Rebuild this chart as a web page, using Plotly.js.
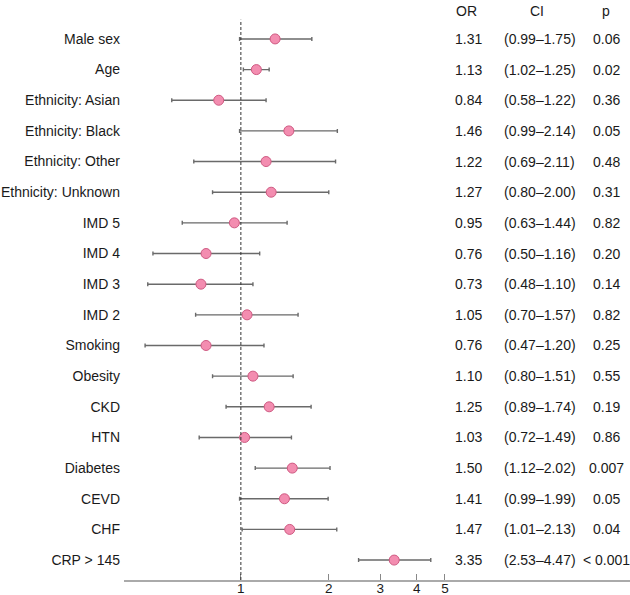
<!DOCTYPE html>
<html>
<head>
<meta charset="utf-8">
<script src="https://cdn.plot.ly/plotly-3.0.1.min.js"></script>
<style>html,body{margin:0;padding:0;background:#fff;}#chart{width:630px;height:595px;}</style>
</head>
<body>
<div id="chart"></div>
<script>
var labels = ["Male sex","Age","Ethnicity: Asian","Ethnicity: Black","Ethnicity: Other","Ethnicity: Unknown","IMD 5","IMD 4","IMD 3","IMD 2","Smoking","Obesity","CKD","HTN","Diabetes","CEVD","CHF","CRP > 145"];
var orVals = [1.31,1.13,0.84,1.46,1.22,1.27,0.95,0.76,0.73,1.05,0.76,1.10,1.25,1.03,1.50,1.41,1.47,3.35];
var ciLow  = [0.99,1.02,0.58,0.99,0.69,0.80,0.63,0.50,0.48,0.70,0.47,0.80,0.89,0.72,1.12,0.99,1.01,2.53];
var ciHigh = [1.75,1.25,1.22,2.14,2.11,2.00,1.44,1.16,1.10,1.57,1.20,1.51,1.74,1.49,2.02,1.99,2.13,4.47];
var pVals  = ["0.06","0.02","0.36","0.05","0.48","0.31","0.82","0.20","0.14","0.82","0.25","0.55","0.19","0.86","0.007","0.05","0.04","< 0.001"];
var headers = ["OR","CI","p"];
var xTicks = [1,2,3,4,5];

var font = "Liberation Sans, Arial, sans-serif";
var txtColor = "#1a1a1a";
var fs = 14;

var trace = {
  type: "scatter",
  mode: "markers",
  x: orVals,
  y: labels,
  marker: {size: 10, color: "#f38db0", line: {color: "#cf5a82", width: 1}},
  error_x: {
    type: "data",
    symmetric: false,
    array: orVals.map(function(v,i){return ciHigh[i]-v;}),
    arrayminus: orVals.map(function(v,i){return v-ciLow[i];}),
    color: "#6a6a6a",
    thickness: 1.4,
    width: 2
  },
  hoverinfo: "none",
  showlegend: false
};

// paper x from pixel (plot area spans 124..630)
function px(p){ return (p - 124) / 506; }

var annotations = [];
var hdrX = [px(466), px(537), px(606)];
headers.forEach(function(h,j){
  annotations.push({xref:"paper", yref:"paper", x:hdrX[j], y:0.981, text:h, showarrow:false,
    xanchor:"center", yanchor:"middle", font:{family:font, size:fs, color:txtColor}});
});
labels.forEach(function(lab,i){
  annotations.push({xref:"paper", yref:"y", x:px(484), y:lab, text:orVals[i].toFixed(2), showarrow:false,
    xanchor:"right", yanchor:"middle", font:{family:font, size:fs, color:txtColor}});
  annotations.push({xref:"paper", yref:"y", x:px(502), y:lab, text:"(" + ciLow[i].toFixed(2) + "\u2013" + ciHigh[i].toFixed(2) + ")", showarrow:false,
    xanchor:"left", yanchor:"middle", font:{family:font, size:fs, color:txtColor}});
  annotations.push({xref:"paper", yref:"y", x:px(606), y:lab, text:pVals[i], showarrow:false,
    xanchor:"center", yanchor:"middle", font:{family:font, size:fs, color:txtColor}});
});

var layout = {
  width: 630, height: 595,
  margin: {l: 124, r: 0, t: 0, b: 15, pad: 0},
  paper_bgcolor: "#fff", plot_bgcolor: "#fff",
  font: {family: font, color: txtColor},
  xaxis: {
    type: "log",
    range: [Math.log10(0.398), Math.log10(21.5)],
    tickvals: xTicks,
    ticktext: xTicks.map(String),
    ticks: "inside", ticklen: 6, tickwidth: 1, tickcolor: "#888",
    showline: true, linecolor: "#aaaaaa", linewidth: 2,
    showgrid: false, zeroline: false,
    ticklabelstandoff: -5,
    tickfont: {family: font, size: 13.5, color: txtColor},
    automargin: false
  },
  yaxis: {
    type: "category",
    categoryorder: "array", categoryarray: labels,
    range: [17.65, -1.27],
    showgrid: false, zeroline: false, showline: false, ticks: "",
    ticklabelstandoff: 3,
    tickfont: {family: font, size: 14, color: txtColor},
    automargin: false
  },
  shapes: [{
    type: "line", xref: "x", yref: "paper", x0: 1, x1: 1, y0: 0, y1: 0.966,
    line: {color: "#333", width: 1, dash: "3px,2px"}
  }],
  annotations: annotations
};

Plotly.newPlot("chart", [trace], layout, {staticPlot: true, displayModeBar: false});
</script>
</body>
</html>
